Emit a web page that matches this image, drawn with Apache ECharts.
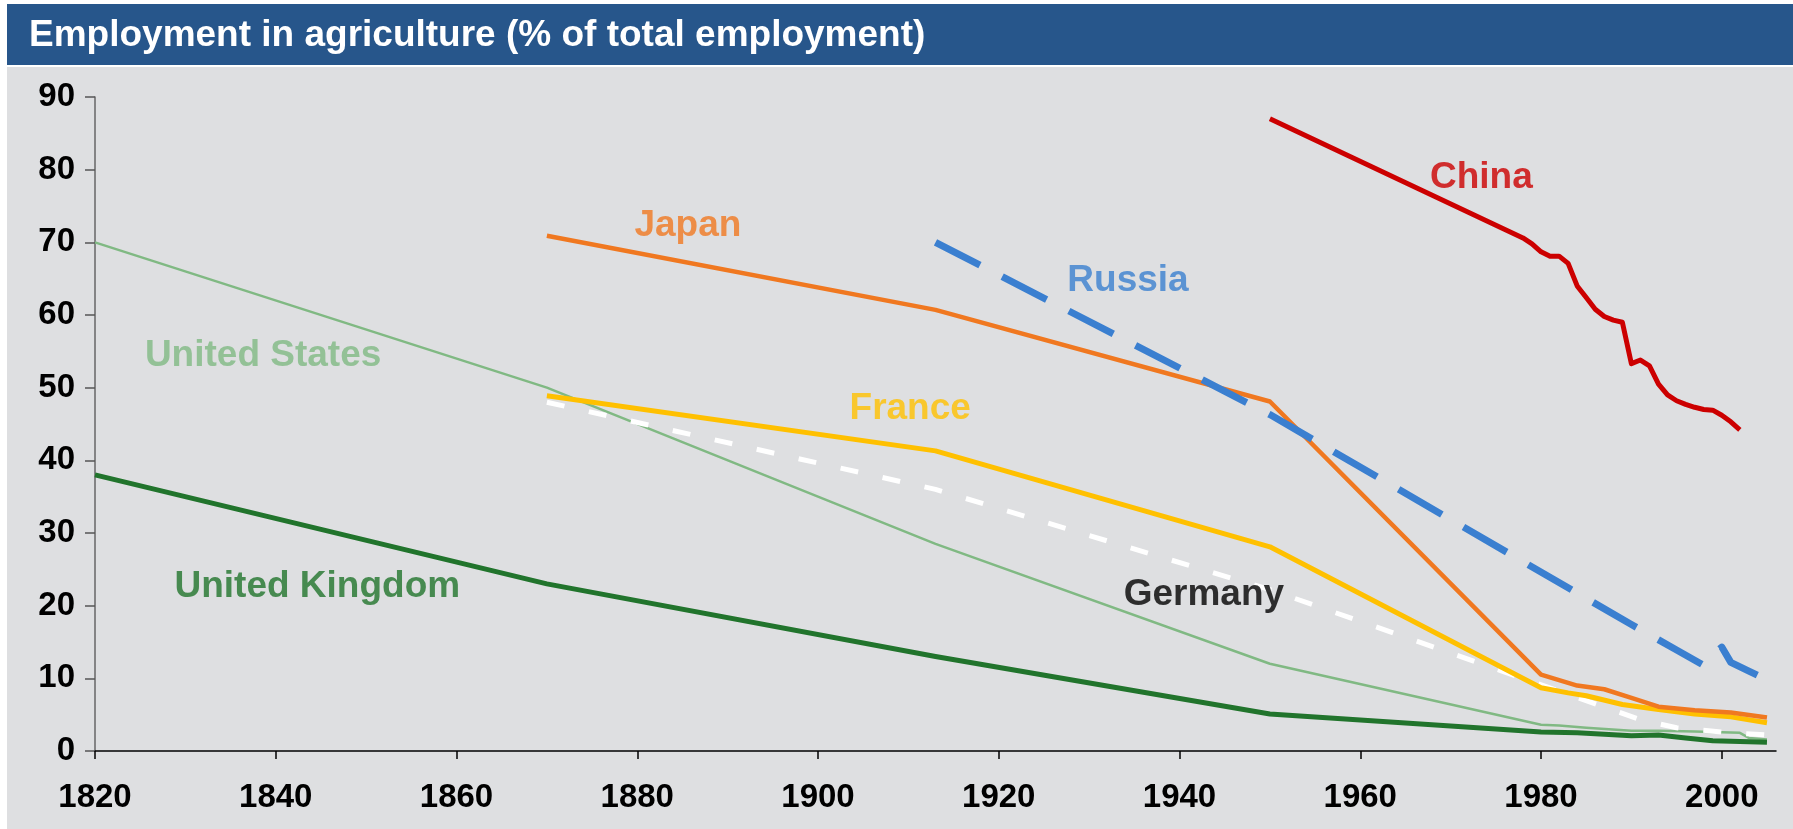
<!DOCTYPE html>
<html>
<head>
<meta charset="utf-8">
<script src="https://cdn.jsdelivr.net/npm/echarts@6/dist/echarts.min.js"></script>
<style>
html,body{margin:0;padding:0;background:#ffffff;}
#chart{width:1793px;height:829px;}
</style>
</head>
<body>
<div id="chart"></div>
<script>
// ---- data ----
const titleText = 'Employment in agriculture (% of total employment)';
const xTickLabels = [1820, 1840, 1860, 1880, 1900, 1920, 1940, 1960, 1980, 2000];
const yTickLabels = [0, 10, 20, 30, 40, 50, 60, 70, 80, 90];

const ukYears = [1820, 1870, 1913, 1950, 1980, 1984, 1990, 1993, 1996, 1999, 2005];
const ukValues = [38, 23, 13, 5.1, 2.6, 2.5, 2.1, 2.2, 1.8, 1.4, 1.2];

const usYears = [1820, 1870, 1913, 1950, 1980, 1982, 1985, 1990, 1993, 1997, 2002, 2003, 2005];
const usValues = [70, 50, 28.5, 12, 3.6, 3.5, 3.2, 2.8, 2.8, 2.7, 2.5, 1.8, 1.6];

const japanYears = [1870, 1913, 1950, 1980, 1984, 1987, 1990, 1993, 1997, 2001, 2005];
const japanValues = [70.9, 60.7, 48.1, 10.5, 9.0, 8.5, 7.3, 6.1, 5.6, 5.3, 4.6];

const franceYears = [1870, 1913, 1950, 1980, 1983, 1985, 1989, 1993, 1997, 2001, 2005];
const franceValues = [48.9, 41.3, 28.1, 8.7, 8.0, 7.6, 6.4, 5.7, 5.1, 4.7, 3.9];

const germanyYears = [1870, 1913, 1950, 1991, 1995, 2000, 2005];
const germanyValues = [48, 36, 22.2, 4.3, 3.2, 2.6, 2.2];

const russiaYears = [1913, 1950, 1990, 1995, 1998, 1999, 2000, 2001, 2003, 2004];
const russiaValues = [70, 46.3, 17.4, 13.9, 11.8, 13.2, 14.3, 12.2, 11.0, 10.4];

const chinaYears = [1950, 1978, 1979, 1980, 1981, 1982, 1983, 1984, 1985, 1986, 1987, 1988, 1989, 1990, 1991, 1992, 1993, 1994, 1995, 1996, 1997, 1998, 1999, 2000, 2001, 2002];
const chinaValues = [87, 70.6, 69.8, 68.7, 68.1, 68.1, 67.1, 64.0, 62.4, 60.8, 59.8, 59.3, 59.0, 53.3, 53.8, 53.0, 50.5, 49.0, 48.2, 47.7, 47.3, 47.0, 46.9, 46.2, 45.3, 44.2];

// series name labels: [year, value] where each name sits
const labelNames = ['China', 'Japan', 'Russia', 'United States', 'France', 'Germany', 'United Kingdom'];
const labelYears = [1973.4, 1885.6, 1934.3, 1838.6, 1910.2, 1942.7, 1844.6];
const labelValues = [79.5, 72.8, 65.3, 54.9, 47.6, 22.0, 23.1];

// ---- build ----
function zip(xs, ys) { return xs.map((x, i) => [x, ys[i]]); }

const colors = {
  'China': '#CC0000',
  'Japan': '#F07820',
  'Russia': '#3A7FD0',
  'United States': '#80B983',
  'France': '#FFC000',
  'Germany': '#FFFFFF',
  'United Kingdom': '#21742C'
};
const labelColors = Object.assign({}, colors, { 'Germany': '#000000' });

const FONT = 'Liberation Sans, Arial, Helvetica, sans-serif';

function lineSeries(name, xs, ys, width, type, z) {
  return {
    name: name,
    type: 'line',
    data: zip(xs, ys),
    symbol: 'none',
    smooth: false,
    z: z,
    lineStyle: { color: colors[name], width: width, type: type, cap: 'butt', join: 'round' },
    silent: true
  };
}

const series = [
  lineSeries('United States', usYears, usValues, 2.5, 'solid', 2),
  lineSeries('Germany', germanyYears, germanyValues, 5, [18, 25], 3),
  lineSeries('United Kingdom', ukYears, ukValues, 5, 'solid', 4),
  lineSeries('France', franceYears, franceValues, 5, 'solid', 5),
  lineSeries('Japan', japanYears, japanValues, 4.5, 'solid', 6),
  lineSeries('Russia', russiaYears, russiaValues, 7, [50, 25], 7),
  lineSeries('China', chinaYears, chinaValues, 5, 'solid', 8),
  {
    name: 'labels',
    type: 'scatter',
    z: 10,
    symbolSize: 0,
    silent: true,
    data: labelNames.map((n, i) => ({
      value: [labelYears[i], labelValues[i]],
      label: {
        show: true,
        position: 'inside',
        offset: [0, 4],
        formatter: n,
        color: labelColors[n],
        fontSize: 37,
        fontWeight: 'bold',
        fontFamily: FONT
      }
    }))
  }
];

const chart = echarts.init(document.getElementById('chart'), null, { renderer: 'canvas' });
chart.setOption({
  animation: false,
  backgroundColor: '#ffffff',
  graphic: [
    { type: 'rect', z: -10, shape: { x: 7, y: 67, width: 1786, height: 762 }, style: { fill: '#DEDFE1' } },
    { type: 'rect', z: -10, shape: { x: 7, y: 4, width: 1786, height: 61 }, style: { fill: '#27568B' } }
  ],
  title: {
    text: titleText,
    left: 29,
    top: 17,
    padding: 0,
    textStyle: { color: '#ffffff', fontSize: 37, fontWeight: 'bold', fontFamily: FONT }
  },
  grid: { left: 95, right: 17, top: 97, bottom: 78, containLabel: false },
  xAxis: {
    type: 'value',
    min: 1820,
    max: 2006,
    interval: 20,
    axisLine: { show: true, lineStyle: { color: '#000000', width: 1.5 } },
    axisTick: { show: true, length: 8, customValues: xTickLabels, lineStyle: { color: '#000000', width: 1.5 } },
    axisLabel: {
      customValues: xTickLabels,
      formatter: v => (xTickLabels.indexOf(v) >= 0 ? String(v) : ''),
      color: '#000000', fontSize: 33, fontWeight: 'bold', fontFamily: FONT, margin: 30
    },
    splitLine: { show: false }
  },
  yAxis: {
    type: 'value',
    min: 0,
    max: 90,
    interval: 10,
    axisLine: { show: true, lineStyle: { color: '#666666', width: 1.5 } },
    axisTick: { show: true, length: 10, lineStyle: { color: '#555555', width: 1.5 } },
    axisLabel: {
      formatter: v => (yTickLabels.indexOf(v) >= 0 ? String(v) : ''),
      color: '#000000', fontSize: 33, fontWeight: 'bold', fontFamily: FONT, margin: 20
    },
    splitLine: { show: false }
  },
  series: series
});
</script>
</body>
</html>
